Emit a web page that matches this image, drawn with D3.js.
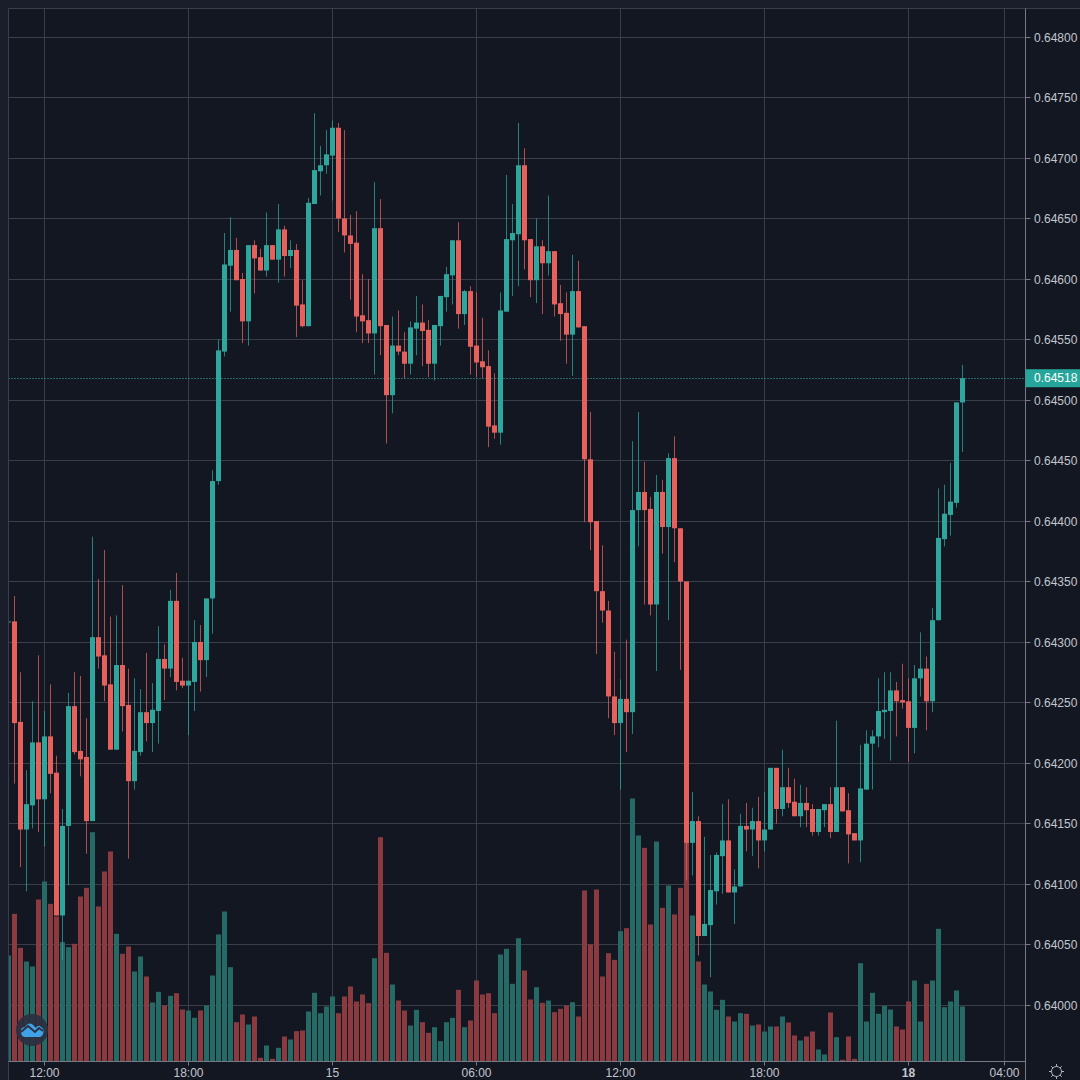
<!DOCTYPE html>
<html>
<head>
<meta charset="utf-8">
<script src="https://cdn.jsdelivr.net/npm/d3@7"></script>
<style>
    html, body { margin: 0; padding: 0; background: #1a1e2b; overflow: hidden; }
    text { font-family: "Liberation Sans", Arial, sans-serif; font-size: 12px; fill: #c3c6ce; }
</style>
</head>
<body>
<div id="chart"></div>
<script>
// 15 minute bars (first one is cut off by the left edge)
var opens = [
    0.64317,0.64317,0.64234,0.64145,0.64165,0.64217,0.64170,0.64222,0.64192,0.64074,0.64148,0.64247,0.64210,0.64205,0.64152,0.64304,
    0.64289,0.64265,0.64211,0.64281,0.64248,0.64185,0.64209,0.64242,0.64233,0.64243,0.64286,0.64278,0.64334,0.64268,0.64264,0.64267,
    0.64300,0.64285,0.64336,0.64433,0.64540,0.64611,0.64624,0.64600,0.64565,0.64628,0.64618,0.64607,0.64628,0.64616,0.64641,0.64619,
    0.64624,0.64579,0.64561,0.64662,0.64689,0.64694,0.64702,0.64725,0.64650,0.64636,0.64630,0.64570,0.64566,0.64555,0.64642,0.64562,
    0.64504,0.64545,0.64540,0.64530,0.64559,0.64564,0.64558,0.64530,0.64561,0.64585,0.64603,0.64632,0.64571,0.64590,0.64545,0.64532,
    0.64528,0.64479,0.64473,0.64573,0.64632,0.64637,0.64694,0.64633,0.64599,0.64627,0.64613,0.64623,0.64580,0.64572,0.64554,0.64590,
    0.64561,0.64451,0.64400,0.64342,0.64326,0.64255,0.64233,0.64253,0.64242,0.64409,0.64424,0.64410,0.64331,0.64424,0.64395,0.64452,
    0.64394,0.64350,0.64134,0.64152,0.64057,0.64066,0.64094,0.64123,0.64136,0.64093,0.64098,0.64148,0.64145,0.64152,0.64136,0.64145,
    0.64196,0.64162,0.64180,0.64168,0.64156,0.64167,0.64162,0.64143,0.64161,0.64166,0.64143,0.64180,0.64161,0.64142,0.64136,0.64178,
    0.64216,0.64222,0.64242,0.64243,0.64260,0.64252,0.64251,0.64229,0.64270,0.64278,0.64251,0.64318,0.64385,0.64405,0.64415,0.64498
];
var highs = [
    0.64320,0.64338,0.64275,0.64194,0.64251,0.64289,0.64243,0.64265,0.64206,0.64162,0.64258,0.64275,0.64272,0.64237,0.64387,0.64352,
    0.64376,0.64321,0.64322,0.64347,0.64278,0.64270,0.64261,0.64291,0.64266,0.64313,0.64298,0.64343,0.64357,0.64287,0.64268,0.64318,
    0.64314,0.64336,0.64442,0.64550,0.64638,0.64651,0.64634,0.64605,0.64628,0.64632,0.64625,0.64655,0.64628,0.64662,0.64644,0.64632,
    0.64629,0.64599,0.64667,0.64737,0.64710,0.64723,0.64731,0.64729,0.64723,0.64653,0.64656,0.64604,0.64600,0.64680,0.64666,0.64562,
    0.64569,0.64574,0.64556,0.64565,0.64586,0.64579,0.64566,0.64562,0.64586,0.64610,0.64632,0.64647,0.64591,0.64594,0.64589,0.64568,
    0.64541,0.64522,0.64589,0.64686,0.64662,0.64729,0.64708,0.64633,0.64650,0.64632,0.64669,0.64623,0.64595,0.64589,0.64620,0.64615,
    0.64561,0.64490,0.64400,0.64380,0.64334,0.64292,0.64269,0.64302,0.64466,0.64490,0.64449,0.64420,0.64438,0.64434,0.64456,0.64470,
    0.64394,0.64350,0.64176,0.64156,0.64139,0.64124,0.64126,0.64166,0.64170,0.64112,0.64158,0.64167,0.64163,0.64172,0.64176,0.64196,
    0.64196,0.64211,0.64196,0.64187,0.64182,0.64180,0.64166,0.64162,0.64166,0.64180,0.64235,0.64180,0.64175,0.64142,0.64215,0.64227,
    0.64227,0.64270,0.64275,0.64275,0.64267,0.64282,0.64270,0.64281,0.64308,0.64288,0.64328,0.64427,0.64430,0.64448,0.64498,0.64529
];
var lows = [
    0.64315,0.64183,0.64114,0.64094,0.64146,0.64143,0.64131,0.64175,0.64074,0.64037,0.64099,0.64207,0.64189,0.64125,0.64152,0.64278,
    0.64251,0.64211,0.64211,0.64226,0.64121,0.64178,0.64206,0.64218,0.64209,0.64216,0.64252,0.64271,0.64260,0.64262,0.64223,0.64243,
    0.64259,0.64271,0.64307,0.64430,0.64536,0.64573,0.64599,0.64547,0.64545,0.64588,0.64607,0.64602,0.64616,0.64597,0.64602,0.64609,
    0.64552,0.64560,0.64561,0.64662,0.64669,0.64687,0.64665,0.64639,0.64622,0.64583,0.64556,0.64547,0.64547,0.64521,0.64537,0.64464,
    0.64489,0.64537,0.64518,0.64521,0.64537,0.64528,0.64519,0.64516,0.64545,0.64573,0.64579,0.64559,0.64562,0.64521,0.64519,0.64518,
    0.64461,0.64468,0.64463,0.64573,0.64586,0.64594,0.64608,0.64585,0.64580,0.64571,0.64603,0.64569,0.64549,0.64530,0.64520,0.64560,
    0.64399,0.64376,0.64290,0.64316,0.64237,0.64223,0.64178,0.64209,0.64224,0.64379,0.64331,0.64322,0.64276,0.64373,0.64318,0.64366,
    0.64277,0.64103,0.64107,0.64041,0.64057,0.64023,0.64083,0.64092,0.64093,0.64067,0.64098,0.64127,0.64123,0.64113,0.64127,0.64145,
    0.64150,0.64156,0.64163,0.64156,0.64147,0.64147,0.64140,0.64140,0.64147,0.64138,0.64143,0.64160,0.64117,0.64136,0.64118,0.64178,
    0.64178,0.64213,0.64220,0.64202,0.64222,0.64245,0.64201,0.64208,0.64255,0.64227,0.64242,0.64318,0.64379,0.64388,0.64411,0.64457
];
var closes = [
    0.64317,0.64233,0.64145,0.64166,0.64217,0.64170,0.64222,0.64191,0.64074,0.64148,0.64247,0.64209,0.64203,0.64152,0.64304,0.64288,
    0.64264,0.64211,0.64281,0.64247,0.64185,0.64210,0.64242,0.64233,0.64244,0.64286,0.64278,0.64334,0.64267,0.64264,0.64268,0.64300,
    0.64285,0.64336,0.64433,0.64541,0.64612,0.64624,0.64599,0.64565,0.64628,0.64617,0.64607,0.64628,0.64616,0.64641,0.64619,0.64624,
    0.64578,0.64561,0.64663,0.64690,0.64694,0.64703,0.64725,0.64650,0.64636,0.64629,0.64569,0.64565,0.64555,0.64642,0.64561,0.64504,
    0.64545,0.64540,0.64530,0.64560,0.64564,0.64557,0.64530,0.64562,0.64586,0.64604,0.64632,0.64571,0.64590,0.64544,0.64531,0.64527,
    0.64478,0.64473,0.64574,0.64633,0.64638,0.64694,0.64632,0.64599,0.64627,0.64613,0.64623,0.64579,0.64571,0.64554,0.64590,0.64560,
    0.64451,0.64399,0.64342,0.64326,0.64255,0.64233,0.64253,0.64242,0.64409,0.64424,0.64409,0.64331,0.64424,0.64395,0.64452,0.64394,
    0.64350,0.64134,0.64152,0.64057,0.64067,0.64095,0.64124,0.64136,0.64093,0.64098,0.64148,0.64145,0.64152,0.64136,0.64145,0.64196,
    0.64162,0.64180,0.64167,0.64156,0.64167,0.64161,0.64143,0.64162,0.64166,0.64143,0.64180,0.64160,0.64141,0.64136,0.64179,0.64216,
    0.64222,0.64243,0.64244,0.64260,0.64251,0.64250,0.64229,0.64270,0.64278,0.64251,0.64318,0.64386,0.64406,0.64416,0.64498,0.64518
];
// volume has no scale in the picture, so these are relative heights only
var volumes = [
    318,443,341,300,285,486,540,473,435,358,343,353,495,521,688,465,
    570,630,383,323,345,270,315,255,177,209,168,197,205,156,153,131,
    153,168,258,381,450,283,118,141,111,135,11,48,8,41,75,66,
    91,93,150,206,145,165,195,145,195,225,180,201,175,310,673,326,
    231,183,153,108,155,118,86,103,61,118,131,215,103,123,243,201,
    205,145,321,338,233,370,273,186,223,176,183,148,158,168,178,135,
    513,351,516,255,325,305,391,400,789,678,641,411,660,461,528,441,
    521,660,438,300,231,210,155,185,135,120,145,143,108,111,90,105,
    105,135,117,78,63,75,90,36,21,147,73,5,75,8,295,120,
    206,143,167,156,105,96,180,243,120,233,243,398,163,180,213,165
];
var priceTicks = [0.648,0.6475,0.647,0.6465,0.646,0.6455,0.645,0.6445,0.644,0.6435,0.643,0.6425,0.642,0.6415,0.641,0.6405,0.64];
var timeTickBars = [6, 30, 54, 78, 102, 126, 150, 166];
var timeTickLabels = ["12:00", "18:00", "15", "06:00", "12:00", "18:00", "18", "04:00"];
var lastPrice = 0.64518;

var upColor = "#2ea69b", downColor = "#e8605c";
var upVol = "#256a64", downVol = "#8b3a40";
var gridColor = "#3a3e4a", axisColor = "#767a85";

var svg = d3.select("#chart")
    .append("svg")
    .attr("width", 1080)
    .attr("height", 1080)
    .style("display", "block");

var plot = { left: 8.5, top: 8.5, right: 1025.5, bottom: 1061.5 };

var x = d3.scaleLinear()
    .domain([0, 100])
    .range([8, 608]);

var y = d3.scaleLinear()
    .domain([0.64, 0.648])
    .range([1005, 37]);

var yVol = d3.scaleLinear()
    .domain([0, 300])
    .range([plot.bottom, plot.bottom - 100]);

// gridlines sit on whole pixels
function yLine(d) {
    return Math.floor(y(d) + 0.01) + 0.5;
}

// panel background
svg.append("rect")
    .attr("x", plot.left)
    .attr("y", plot.top)
    .attr("width", 1080 - plot.left)
    .attr("height", 1080 - plot.top)
    .attr("fill", "#131722");

svg.append("clipPath")
    .attr("id", "plotClip")
    .append("rect")
    .attr("x", plot.left)
    .attr("y", plot.top)
    .attr("width", plot.right - plot.left)
    .attr("height", plot.bottom - plot.top);

var g = svg.append("g").attr("clip-path", "url(#plotClip)");

// grid
g.selectAll(".hgrid")
    .data(priceTicks)
    .enter().append("line")
    .attr("x1", plot.left)
    .attr("x2", plot.right)
    .attr("y1", yLine)
    .attr("y2", yLine)
    .attr("stroke", gridColor);

g.selectAll(".vgrid")
    .data(timeTickBars)
    .enter().append("line")
    .attr("x1", function (d) { return x(d) + 0.5; })
    .attr("x2", function (d) { return x(d) + 0.5; })
    .attr("y1", plot.top)
    .attr("y2", plot.bottom)
    .attr("stroke", gridColor);

function isUp(i) {
    return closes[i] >= opens[i];
}

// volume goes under the candles
g.selectAll(".vol")
    .data(volumes)
    .enter().append("rect")
    .attr("x", function (d, i) { return x(i) - 2; })
    .attr("width", 5)
    .attr("y", function (d) { return yVol(d); })
    .attr("height", function (d) { return plot.bottom - yVol(d); })
    .attr("fill", function (d, i) { return isUp(i) ? upVol : downVol; });

// last price line
g.append("line")
    .attr("x1", plot.left)
    .attr("x2", plot.right)
    .attr("y1", yLine(lastPrice))
    .attr("y2", yLine(lastPrice))
    .attr("stroke", "#3fb8ac")
    .attr("stroke-dasharray", "1,2");

// wicks
g.selectAll(".wick")
    .data(opens)
    .enter().append("line")
    .attr("x1", function (d, i) { return x(i) + 0.5; })
    .attr("x2", function (d, i) { return x(i) + 0.5; })
    .attr("y1", function (d, i) { return y(highs[i]); })
    .attr("y2", function (d, i) { return y(lows[i]); })
    .attr("stroke", function (d, i) { return isUp(i) ? upColor : downColor; })
    .attr("stroke-opacity", 0.75);

// bodies
g.selectAll(".body")
    .data(opens)
    .enter().append("rect")
    .attr("x", function (d, i) { return x(i) - 2; })
    .attr("width", 5)
    .attr("y", function (d, i) { return y(Math.max(opens[i], closes[i])); })
    .attr("height", function (d, i) { return Math.max(1, Math.abs(y(opens[i]) - y(closes[i]))); })
    .attr("fill", function (d, i) { return isUp(i) ? upColor : downColor; });

// frame
svg.append("path")
    .attr("d", "M" + plot.left + ",1080V" + plot.top + "H1080")
    .attr("fill", "none")
    .attr("stroke", gridColor);
svg.append("line")
    .attr("x1", plot.right).attr("x2", plot.right)
    .attr("y1", plot.top).attr("y2", 1080)
    .attr("stroke", axisColor);
svg.append("line")
    .attr("x1", plot.left).attr("x2", plot.right)
    .attr("y1", plot.bottom).attr("y2", plot.bottom)
    .attr("stroke", axisColor);

// price axis
var yTicks = svg.selectAll(".ytick")
    .data(priceTicks)
    .enter().append("g")
    .attr("transform", function (d) { return "translate(0," + yLine(d) + ")"; });
yTicks.append("line")
    .attr("x1", plot.right)
    .attr("x2", plot.right + 5)
    .attr("stroke", axisColor);
yTicks.append("text")
    .attr("x", 1034)
    .attr("dy", "0.35em")
    .text(function (d) { return d3.format(".5f")(d); });

// last price tag
svg.append("rect")
    .attr("x", plot.right)
    .attr("y", y(lastPrice) - 9)
    .attr("width", 1080 - plot.right)
    .attr("height", 18)
    .attr("fill", "#26a69a");
svg.append("text")
    .attr("x", 1034)
    .attr("y", y(lastPrice))
    .attr("dy", "0.35em")
    .style("fill", "#ffffff")
    .text(d3.format(".5f")(lastPrice));

// time axis
var xTicks = svg.selectAll(".xtick")
    .data(timeTickBars)
    .enter().append("g")
    .attr("transform", function (d) { return "translate(" + (x(d) + 0.5) + ",0)"; });
xTicks.append("line")
    .attr("y1", plot.bottom)
    .attr("y2", plot.bottom + 4)
    .attr("stroke", axisColor);
xTicks.append("text")
    .attr("y", 1077)
    .attr("text-anchor", "middle")
    .style("font-weight", function (d, i) { return timeTickLabels[i] === "18" ? "bold" : null; })
    .text(function (d, i) { return timeTickLabels[i]; });

// settings gear in the corner
var gear = svg.append("g")
    .attr("transform", "translate(1056.5,1071.5)")
    .attr("fill", "none")
    .attr("stroke", "#b2b5be");
gear.append("circle").attr("r", 5);
d3.range(8).forEach(function (k) {
    var a = k * Math.PI / 4;
    gear.append("line")
        .attr("x1", 5 * Math.cos(a)).attr("y1", 5 * Math.sin(a))
        .attr("x2", 7.5 * Math.cos(a)).attr("y2", 7.5 * Math.sin(a));
});

// logo badge
var logo = svg.append("g").attr("transform", "translate(32,1030)");
logo.append("circle").attr("r", 16).attr("fill", "#2a3040").attr("fill-opacity", 0.92);
logo.append("path")
    .attr("d", "M-11,3 Q-12,-3 -7,-3 Q-4,-8 0,-6 L4,-2 Q6,-6 9,-3 Q13,-1 11,4 Q10,7 7,7 L-7,7 Q-10,7 -11,3Z")
    .attr("fill", "#3fa2e8");
logo.append("path")
    .attr("d", "M-11,2 L-4,-4 L3,2 L7,-2 L11,1")
    .attr("fill", "none")
    .attr("stroke", "#2a3040")
    .attr("stroke-width", 2);
</script>
</body>
</html>
